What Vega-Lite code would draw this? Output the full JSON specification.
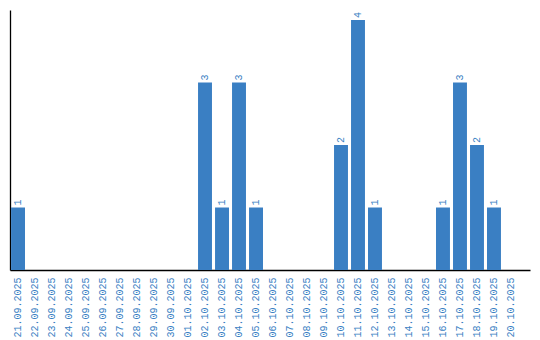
{
  "$schema": "https://vega.github.io/schema/vega-lite/v6.json",
  "autosize": "none",
  "width": 520,
  "height": 260,
  "padding": {"left": 10, "top": 10, "right": 10, "bottom": 70},
  "background": "white",
  "config": {"view": {"stroke": null}},
  "data": {"values": [
    {"date": "21.09.2025", "count": 1},
    {"date": "22.09.2025", "count": 0},
    {"date": "23.09.2025", "count": 0},
    {"date": "24.09.2025", "count": 0},
    {"date": "25.09.2025", "count": 0},
    {"date": "26.09.2025", "count": 0},
    {"date": "27.09.2025", "count": 0},
    {"date": "28.09.2025", "count": 0},
    {"date": "29.09.2025", "count": 0},
    {"date": "30.09.2025", "count": 0},
    {"date": "01.10.2025", "count": 0},
    {"date": "02.10.2025", "count": 3},
    {"date": "03.10.2025", "count": 1},
    {"date": "04.10.2025", "count": 3},
    {"date": "05.10.2025", "count": 1},
    {"date": "06.10.2025", "count": 0},
    {"date": "07.10.2025", "count": 0},
    {"date": "08.10.2025", "count": 0},
    {"date": "09.10.2025", "count": 0},
    {"date": "10.10.2025", "count": 2},
    {"date": "11.10.2025", "count": 4},
    {"date": "12.10.2025", "count": 1},
    {"date": "13.10.2025", "count": 0},
    {"date": "14.10.2025", "count": 0},
    {"date": "15.10.2025", "count": 0},
    {"date": "16.10.2025", "count": 1},
    {"date": "17.10.2025", "count": 3},
    {"date": "18.10.2025", "count": 2},
    {"date": "19.10.2025", "count": 1},
    {"date": "20.10.2025", "count": 0}
  ]},
  "encoding": {
    "x": {
      "field": "date", "type": "ordinal", "sort": null,
      "scale": {"paddingInner": 0.18, "paddingOuter": 0.385, "align": 0.08},
      "axis": {
        "title": null, "ticks": false, "domainColor": "black", "domainWidth": 1.3,
        "labelAngle": 270, "labelAlign": "right", "labelBaseline": "middle",
        "labelFont": "Liberation Mono", "labelFontSize": 10, "labelColor": "#3a7fc3",
        "labelPadding": 7
      }
    },
    "y": {
      "field": "count", "type": "quantitative",
      "scale": {"domain": [0, 4.16], "nice": false},
      "axis": {"title": null, "ticks": false, "labels": false, "grid": false, "domainColor": "black", "domainWidth": 1.3}
    }
  },
  "layer": [
    {"mark": {"type": "bar", "color": "#3a7fc3"}},
    {
      "transform": [{"filter": "datum.count > 0"}],
      "mark": {"type": "text", "angle": 270, "align": "left", "baseline": "middle", "dx": 2, "font": "Liberation Mono", "fontSize": 10, "color": "#3a7fc3"},
      "encoding": {"text": {"field": "count", "type": "quantitative"}}
    }
  ]
}
